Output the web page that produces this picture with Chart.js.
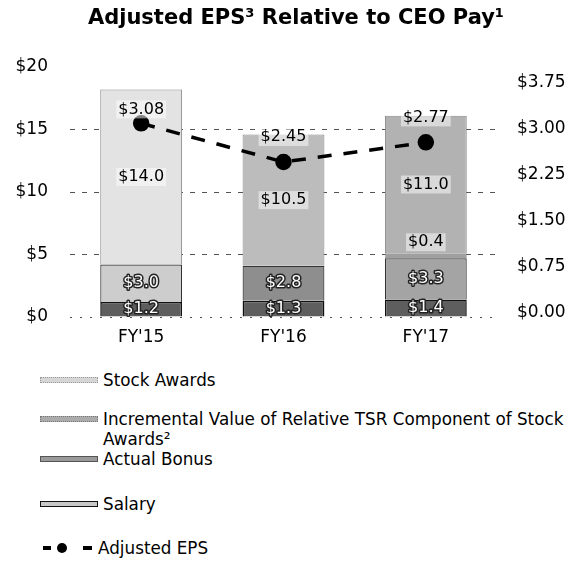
<!DOCTYPE html>
<html>
<head>
<meta charset="utf-8">
<script src="https://cdn.jsdelivr.net/npm/chart.js@4.4.0/dist/chart.umd.min.js"></script>
<style>
html,body{margin:0;padding:0;background:#fff;}
#wrap{position:relative;width:575px;height:565px;overflow:hidden;font-family:"DejaVu Sans",sans-serif;color:#000;}
#title{position:absolute;left:0;top:5px;width:592px;text-align:center;font-weight:bold;font-size:21px;line-height:24px;white-space:nowrap;}
#c{position:absolute;left:0;top:0;}
.row{position:absolute;left:0;width:575px;height:20px;}
.sw{position:absolute;left:40px;top:7px;width:58px;height:6px;box-sizing:border-box;}
.txt{position:absolute;left:103px;top:0;font-size:16.8px;line-height:20px;white-space:nowrap;}
</style>
</head>
<body>
<div id="wrap">
  <canvas id="c" width="575" height="360"></canvas>
  <div id="title">Adjusted EPS³ Relative to CEO Pay¹</div>
  <div class="row" style="top:370px"><div class="sw" style="background:#d6d6d6;border:1px dotted #999"></div><div class="txt">Stock Awards</div></div>
  <div class="row" style="top:409px"><div class="sw" style="background:#ababab;border:1px dotted #777"></div><div class="txt">Incremental Value of Relative TSR Component of Stock<br>Awards²</div></div>
  <div class="row" style="top:449px"><div class="sw" style="background:#9a9a9a;border:1px solid #555"></div><div class="txt">Actual Bonus</div></div>
  <div class="row" style="top:494px"><div class="sw" style="background:#c8c8c8;border:1.5px solid #111"></div><div class="txt">Salary</div></div>
  <div class="row" style="top:538px">
    <div style="position:absolute;left:43px;top:8px;width:8px;height:3.5px;background:#000"></div>
    <div style="position:absolute;left:57px;top:5px;width:10px;height:10px;border-radius:50%;background:#000"></div>
    <div style="position:absolute;left:83px;top:8px;width:9px;height:3.5px;background:#000"></div>
    <div class="txt" style="left:98px">Adjusted EPS</div>
  </div>
</div>
<script>
const categories = ["FY'15", "FY'16", "FY'17"];
const salary = [1.2, 1.3, 1.4];
const actualBonus = [3.0, 2.8, 3.3];
const incrementalTSR = [null, null, 0.4];
const stockAwards = [14.0, 10.5, 11.0];
const adjustedEPS = [3.08, 2.45, 2.77];
const leftTicks = [0, 5, 10, 15, 20];
const rightTicks = [0, 0.75, 1.5, 2.25, 3.0, 3.75];

Chart.defaults.font.family = "'DejaVu Sans', sans-serif";
Chart.defaults.font.size = 17;
Chart.defaults.color = '#000';

const labelPlugin = {
  id: 'segLabels',
  afterDatasetsDraw(chart, args, opts) {
    const ctx = chart.ctx;
    ctx.save();
    ctx.textAlign = 'center';
    ctx.textBaseline = 'middle';
    ctx.font = "16px 'DejaVu Sans', sans-serif";
    chart.data.datasets.forEach((ds, di) => {
      const meta = chart.getDatasetMeta(di);
      meta.data.forEach((el, i) => {
        const v = ds.data[i];
        if (v == null) return;
        const text = '$' + v.toFixed(ds.labelDigits);
        const x = el.x;
        let y;
        if (ds.type === 'line') y = el.y - opts.epsOffsets[i];
        else if (ds.labelAbove) y = Math.min(el.y, el.base) - 11;
        else y = (el.y + el.base) / 2;
        if (ds.labelStyle === 'inverse') {
          ctx.lineWidth = 3;
          ctx.lineJoin = 'round';
          ctx.strokeStyle = '#222';
          ctx.strokeText(text, x, y);
          ctx.fillStyle = '#fff';
          ctx.fillText(text, x, y);
        } else {
          const w = ctx.measureText(text).width;
          ctx.fillStyle = 'rgba(255,255,255,0.5)';
          ctx.fillRect(x - w / 2 - 2, y - 9, w + 4, 18);
          ctx.fillStyle = '#000';
          ctx.fillText(text, x, y);
        }
      });
    });
    ctx.restore();
  }
};

new Chart(document.getElementById('c'), {
  data: {
    labels: categories,
    datasets: [
      { type: 'line', label: 'Adjusted EPS', data: adjustedEPS, yAxisID: 'y2', order: 0,
        borderColor: '#000', borderWidth: 3.5, borderDash: [14, 12], tension: 0,
        pointRadius: 6.5, pointBackgroundColor: '#000', pointBorderColor: '#000',
        labelDigits: 2, labelStyle: 'plain' },
      { type: 'bar', label: 'Salary', data: salary, yAxisID: 'y', order: 1,
        backgroundColor: '#5e5e5e', borderColor: '#111', borderWidth: 1.5,
        labelDigits: 1, labelStyle: 'inverse' },
      { type: 'bar', label: 'Actual Bonus', data: actualBonus, yAxisID: 'y', order: 1,
        backgroundColor: ['#cdcdcd', '#8e8e8e', '#a4a4a4'], borderColor: '#333', borderWidth: 1.2,
        labelDigits: 1, labelStyle: 'inverse' },
      { type: 'bar', label: 'Incremental Value of Relative TSR Component of Stock Awards²', data: incrementalTSR, yAxisID: 'y', order: 1,
        backgroundColor: '#a0a0a0', borderColor: '#777', borderWidth: 0.5,
        labelDigits: 1, labelStyle: 'plain', labelAbove: true },
      { type: 'bar', label: 'Stock Awards', data: stockAwards, yAxisID: 'y', order: 1,
        backgroundColor: ['#e3e3e3', '#bcbcbc', '#b2b2b2'], borderColor: '#888', borderWidth: 1,
        labelDigits: 1, labelStyle: 'plain' }
    ]
  },
  options: {
    responsive: false,
    animation: false,
    devicePixelRatio: 1,
    layout: { padding: { left: 16, right: 0, top: 67, bottom: 0 } },
    datasets: { bar: { barPercentage: 0.575, categoryPercentage: 1.0 } },
    plugins: {
      legend: { display: false },
      tooltip: { enabled: false },
      title: { display: false },
      segLabels: { epsOffsets: [14, 25, 25] }
    },
    scales: {
      x: {
        stacked: true, offset: true,
        grid: { display: false, drawTicks: false },
        border: { display: false },
        ticks: { padding: 10, color: '#000', font: { size: 17 } },
        afterFit(s) { s.height = 43; }
      },
      y: {
        stacked: true, position: 'left', min: 0, max: 20,
        afterBuildTicks(s) { s.ticks = leftTicks.map(v => ({ value: v })); },
        ticks: { padding: 22, color: '#000', font: { size: 17 }, callback: v => '$' + v },
        grid: { drawTicks: false, lineWidth: 1,
          color: c => (c.tick && c.tick.value === 20) ? 'rgba(0,0,0,0)' : '#555' },
        border: { display: false,
          dash: c => (c.tick && c.tick.value === 0) ? [2, 8] : [5, 7] },
        afterFit(s) { s.width = 54; }
      },
      y2: {
        position: 'right', min: -0.08, max: 4.0,
        afterBuildTicks(s) { s.ticks = rightTicks.map(v => ({ value: v })); },
        ticks: { padding: 20, color: '#000', font: { size: 17 }, callback: v => '$' + Number(v).toFixed(2) },
        grid: { display: false, drawTicks: false },
        border: { display: false },
        afterFit(s) { s.width = 78; }
      }
    }
  },
  plugins: [labelPlugin]
});
</script>
</body>
</html>
